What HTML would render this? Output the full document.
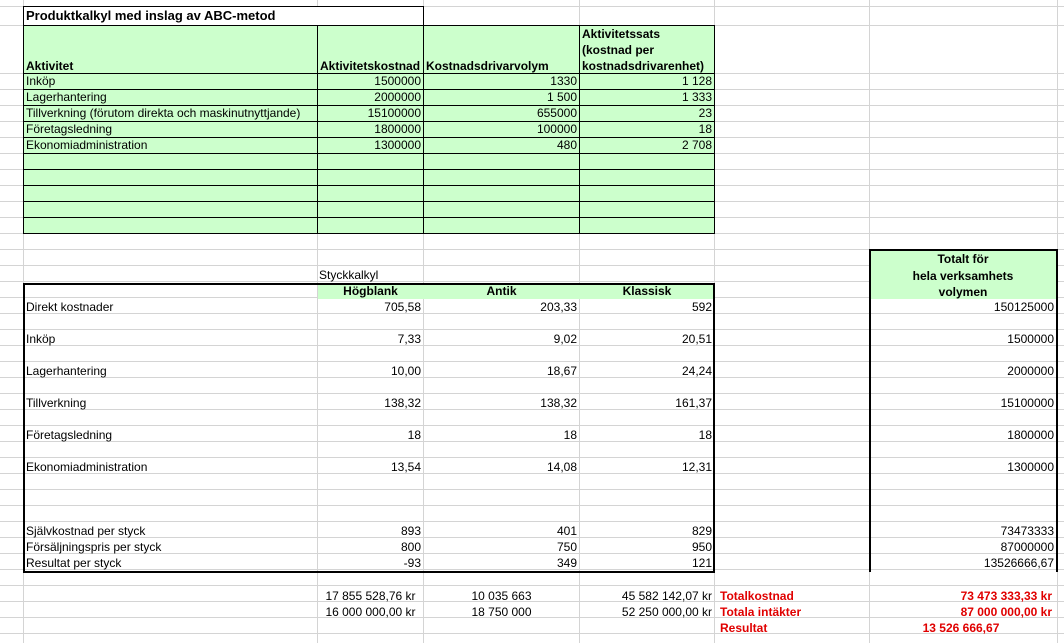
<!DOCTYPE html>
<html><head><meta charset="utf-8"><style>
body{margin:0;width:1064px;height:643px;position:relative;overflow:hidden;background:#fff;font-family:"Liberation Sans",Arial,sans-serif;font-size:12px;color:#000}
div{position:absolute;box-sizing:border-box}
.h{height:1px;background:#d4d4d4;left:0;width:1064px}
.v{width:1px;background:#d4d4d4;top:0;height:643px}
.t{white-space:nowrap;line-height:16px;height:16px}
.r{text-align:right}
.c{text-align:center}
.b{font-weight:bold}
.red{color:#e00000;font-weight:bold}
.k{background:#000}
</style></head><body>
<!-- gridlines -->
<div class="h" style="top:6px"></div><div class="h" style="top:25px"></div>
<div style="left:0;top:73px;width:1064px;height:570px;background:repeating-linear-gradient(to bottom,#d4d4d4 0,#d4d4d4 1px,transparent 1px,transparent 16px)"></div>
<div class="v" style="left:23px"></div><div class="v" style="left:317px"></div><div class="v" style="left:423px"></div>
<div class="v" style="left:579px"></div><div class="v" style="left:714px"></div><div class="v" style="left:869px"></div><div class="v" style="left:1057px"></div>

<!-- title -->
<div style="left:23px;top:6px;width:401px;height:20px;background:#fff;border:1px solid #000;border-bottom:none"></div>
<div class="t b" style="left:26px;top:8px;font-size:13px">Produktkalkyl med inslag av ABC-metod</div>

<!-- upper table -->
<div style="left:23px;top:25px;width:692px;height:209px;background:#ccffcc;border:1px solid #000"></div>
<div class="k" style="left:23px;top:73px;width:692px;height:1px"></div>
<div class="k" style="left:23px;top:89px;width:692px;height:1px"></div>
<div class="k" style="left:23px;top:105px;width:692px;height:1px"></div>
<div class="k" style="left:23px;top:121px;width:692px;height:1px"></div>
<div class="k" style="left:23px;top:137px;width:692px;height:1px"></div>
<div class="k" style="left:23px;top:153px;width:692px;height:1px"></div>
<div class="k" style="left:23px;top:169px;width:692px;height:1px"></div>
<div class="k" style="left:23px;top:185px;width:692px;height:1px"></div>
<div class="k" style="left:23px;top:201px;width:692px;height:1px"></div>
<div class="k" style="left:23px;top:217px;width:692px;height:1px"></div>
<div class="k" style="left:317px;top:25px;width:1px;height:209px"></div>
<div class="k" style="left:423px;top:25px;width:1px;height:209px"></div>
<div class="k" style="left:579px;top:25px;width:1px;height:209px"></div>

<div class="t b" style="left:26px;top:58px">Aktivitet</div>
<div class="t b" style="left:320px;top:58px">Aktivitetskostnad</div>
<div class="t b" style="left:426px;top:58px">Kostnadsdrivarvolym</div>
<div class="t b" style="left:582px;top:26px">Aktivitetssats</div>
<div class="t b" style="left:582px;top:42px">(kostnad per</div>
<div class="t b" style="left:582px;top:58px">kostnadsdrivarenhet)</div>

<div class="t" style="left:26px;top:73px">Inköp</div>
<div class="t" style="left:26px;top:89px">Lagerhantering</div>
<div class="t" style="left:26px;top:105px">Tillverkning (förutom direkta och maskinutnyttjande)</div>
<div class="t" style="left:26px;top:121px">Företagsledning</div>
<div class="t" style="left:26px;top:137px">Ekonomiadministration</div>
<div class="t r" style="left:318px;width:103px;top:73px">1500000</div>
<div class="t r" style="left:318px;width:103px;top:89px">2000000</div>
<div class="t r" style="left:318px;width:103px;top:105px">15100000</div>
<div class="t r" style="left:318px;width:103px;top:121px">1800000</div>
<div class="t r" style="left:318px;width:103px;top:137px">1300000</div>
<div class="t r" style="left:424px;width:153px;top:73px">1330</div>
<div class="t r" style="left:424px;width:153px;top:89px">1 500</div>
<div class="t r" style="left:424px;width:153px;top:105px">655000</div>
<div class="t r" style="left:424px;width:153px;top:121px">100000</div>
<div class="t r" style="left:424px;width:153px;top:137px">480</div>
<div class="t r" style="left:580px;width:132px;top:73px">1 128</div>
<div class="t r" style="left:580px;width:132px;top:89px">1 333</div>
<div class="t r" style="left:580px;width:132px;top:105px">23</div>
<div class="t r" style="left:580px;width:132px;top:121px">18</div>
<div class="t r" style="left:580px;width:132px;top:137px">2 708</div>

<!-- lower table -->
<div class="t" style="left:319px;top:267px">Styckkalkyl</div>
<div style="left:318px;top:284px;width:396px;height:15px;background:#ccffcc"></div>
<div style="left:23px;top:283px;width:692px;height:290px;border:2px solid #000"></div>
<div class="t b c" style="left:318px;width:105px;top:283px">Högblank</div>
<div class="t b c" style="left:424px;width:155px;top:283px">Antik</div>
<div class="t b c" style="left:580px;width:134px;top:283px">Klassisk</div>

<div class="t" style="left:26px;top:299px">Direkt kostnader</div>
<div class="t" style="left:26px;top:331px">Inköp</div>
<div class="t" style="left:26px;top:363px">Lagerhantering</div>
<div class="t" style="left:26px;top:395px">Tillverkning</div>
<div class="t" style="left:26px;top:427px">Företagsledning</div>
<div class="t" style="left:26px;top:459px">Ekonomiadministration</div>
<div class="t" style="left:26px;top:523px">Självkostnad per styck</div>
<div class="t" style="left:26px;top:539px">Försäljningspris per styck</div>
<div class="t" style="left:26px;top:555px">Resultat per styck</div>

<div class="t r" style="left:318px;width:103px;top:299px">705,58</div>
<div class="t r" style="left:318px;width:103px;top:331px">7,33</div>
<div class="t r" style="left:318px;width:103px;top:363px">10,00</div>
<div class="t r" style="left:318px;width:103px;top:395px">138,32</div>
<div class="t r" style="left:318px;width:103px;top:427px">18</div>
<div class="t r" style="left:318px;width:103px;top:459px">13,54</div>
<div class="t r" style="left:318px;width:103px;top:523px">893</div>
<div class="t r" style="left:318px;width:103px;top:539px">800</div>
<div class="t r" style="left:318px;width:103px;top:555px">-93</div>

<div class="t r" style="left:424px;width:153px;top:299px">203,33</div>
<div class="t r" style="left:424px;width:153px;top:331px">9,02</div>
<div class="t r" style="left:424px;width:153px;top:363px">18,67</div>
<div class="t r" style="left:424px;width:153px;top:395px">138,32</div>
<div class="t r" style="left:424px;width:153px;top:427px">18</div>
<div class="t r" style="left:424px;width:153px;top:459px">14,08</div>
<div class="t r" style="left:424px;width:153px;top:523px">401</div>
<div class="t r" style="left:424px;width:153px;top:539px">750</div>
<div class="t r" style="left:424px;width:153px;top:555px">349</div>

<div class="t r" style="left:580px;width:132px;top:299px">592</div>
<div class="t r" style="left:580px;width:132px;top:331px">20,51</div>
<div class="t r" style="left:580px;width:132px;top:363px">24,24</div>
<div class="t r" style="left:580px;width:132px;top:395px">161,37</div>
<div class="t r" style="left:580px;width:132px;top:427px">18</div>
<div class="t r" style="left:580px;width:132px;top:459px">12,31</div>
<div class="t r" style="left:580px;width:132px;top:523px">829</div>
<div class="t r" style="left:580px;width:132px;top:539px">950</div>
<div class="t r" style="left:580px;width:132px;top:555px">121</div>

<!-- totals row below -->
<div class="t c" style="left:318px;width:105px;top:588px">17 855 528,76 kr</div>
<div class="t c" style="left:318px;width:105px;top:604px">16 000 000,00 kr</div>
<div class="t c" style="left:424px;width:155px;top:588px">10 035 663</div>
<div class="t c" style="left:424px;width:155px;top:604px">18 750 000</div>
<div class="t r" style="left:580px;width:132px;top:588px">45 582 142,07 kr</div>
<div class="t r" style="left:580px;width:132px;top:604px">52 250 000,00 kr</div>

<div class="t red" style="left:720px;top:588px">Totalkostnad</div>
<div class="t red" style="left:720px;top:604px">Totala intäkter</div>
<div class="t red" style="left:720px;top:620px">Resultat</div>
<div class="t red r" style="left:870px;width:182px;top:588px">73 473 333,33 kr</div>
<div class="t red r" style="left:870px;width:182px;top:604px">87 000 000,00 kr</div>
<div class="t red c" style="left:870px;width:182px;top:620px">13 526 666,67</div>

<!-- right box -->
<div style="left:870px;top:251px;width:186px;height:48px;background:#ccffcc"></div>
<div style="left:869px;top:249px;width:189px;height:323px;border:2px solid #000;border-bottom:none"></div>
<div class="t b c" style="left:870px;width:186px;top:251px">Totalt för</div>
<div class="t b c" style="left:870px;width:186px;top:268px">hela verksamhets</div>
<div class="t b c" style="left:870px;width:186px;top:284px">volymen</div>
<div class="t r" style="left:870px;width:184px;top:299px">150125000</div>
<div class="t r" style="left:870px;width:184px;top:331px">1500000</div>
<div class="t r" style="left:870px;width:184px;top:363px">2000000</div>
<div class="t r" style="left:870px;width:184px;top:395px">15100000</div>
<div class="t r" style="left:870px;width:184px;top:427px">1800000</div>
<div class="t r" style="left:870px;width:184px;top:459px">1300000</div>
<div class="t r" style="left:870px;width:184px;top:523px">73473333</div>
<div class="t r" style="left:870px;width:184px;top:539px">87000000</div>
<div class="t r" style="left:870px;width:184px;top:555px">13526666,67</div>
</body></html>
